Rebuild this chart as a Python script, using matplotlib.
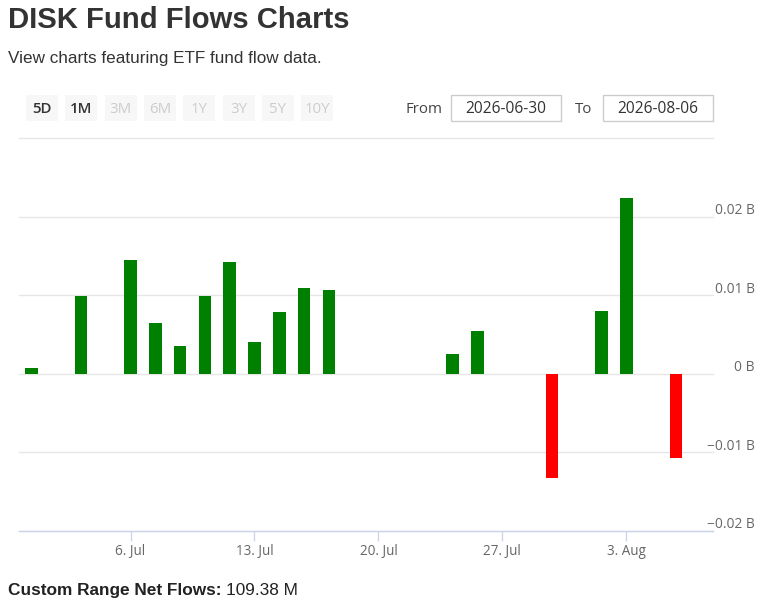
import matplotlib
matplotlib.use('Agg')
import matplotlib.pyplot as plt
import matplotlib.transforms as mtransforms
from matplotlib.patches import Rectangle

# ---------------- data ----------------
dates = ['2026-06-30', '2026-07-01', '2026-07-02', '2026-07-03',
         '2026-07-06', '2026-07-07', '2026-07-08', '2026-07-09', '2026-07-10',
         '2026-07-13', '2026-07-14', '2026-07-15', '2026-07-16', '2026-07-17',
         '2026-07-20', '2026-07-21', '2026-07-22', '2026-07-23', '2026-07-24',
         '2026-07-27', '2026-07-28', '2026-07-29', '2026-07-30', '2026-07-31',
         '2026-08-03', '2026-08-04', '2026-08-05', '2026-08-06']
flows_b = [0.0008, 0.0, 0.0099, 0.0,
           0.0145, 0.0064, 0.0035, 0.0099, 0.0142,
           0.0041, 0.0079, 0.0109, 0.0107, 0.0,
           0.0, 0.0, 0.0, 0.0025, 0.0055,
           0.0, 0.0, -0.0132, 0.0, 0.0080,
           0.0224, 0.0, -0.0107, 0.0]
tick_dates = ['2026-07-06', '2026-07-13', '2026-07-20', '2026-07-27', '2026-08-03']
tick_labels = ['6. Jul', '13. Jul', '20. Jul', '27. Jul', '3. Aug']
y_ticks = [-0.02, -0.01, 0.0, 0.01, 0.02, 0.03]
y_tick_labels = ['\u22120.02 B', '\u22120.01 B', '0 B', '0.01 B', '0.02 B', '']
range_buttons = ['5D', '1M', '3M', '6M', '1Y', '3Y', '5Y', '10Y']
active_buttons = ['5D', '1M']
from_date = '2026-06-30'
to_date = '2026-08-06'
title = 'DISK Fund Flows Charts'
subtitle = 'View charts featuring ETF fund flow data.'
net_label = 'Custom Range Net Flows:'
net_value = '109.38 M'

# ---------------- figure ----------------
W, H = 780, 605
DPI = 100
fig = plt.figure(figsize=(W / DPI, H / DPI), dpi=DPI)
fig.patch.set_facecolor('white')

def fx(x):
    return x / W

def fy(y):
    return 1 - y / H

def pt(pxsize):
    return pxsize * 72 / DPI

HEAD = ['Liberation Sans', 'DejaVu Sans']
UI = ['Open Sans', 'DejaVu Sans']

# header texts
fig.text(fx(7.5), fy(27.5), title, fontsize=pt(29.3), fontweight='bold',
         color='#333333', family=HEAD, va='baseline', ha='left')
fig.text(fx(8), fy(63.5), subtitle, fontsize=pt(17.1), color='#333333',
         family=HEAD, va='baseline', ha='left')

# range selector buttons
btn_x0 = 26
btn_step = 39.3
btn_w = 32
for i, b in enumerate(range_buttons):
    x0 = btn_x0 + i * btn_step
    fig.add_artist(Rectangle((fx(x0), fy(121.5)), btn_w / W, 26 / H,
                             transform=fig.transFigure, facecolor='#f7f7f7',
                             edgecolor='none'))
    active = b in active_buttons
    fig.text(fx(x0 + btn_w / 2), fy(113), b, fontsize=pt(15),
             color='#333333' if active else '#cccccc',
             fontweight='semibold' if active else 'normal',
             family=UI, ha='center', va='baseline')

# From / To inputs
fig.text(fx(424), fy(113), 'From', fontsize=pt(15), color='#444444',
         family=UI, ha='center', va='baseline')
fig.text(fx(584), fy(113), 'To', fontsize=pt(15), color='#444444',
         family=UI, ha='center', va='baseline')
for (x0, x1, txt) in [(451, 561, from_date), (603, 713, to_date)]:
    fig.add_artist(Rectangle((fx(x0), fy(121.5)), (x1 - x0) / W, 26 / H,
                             transform=fig.transFigure, facecolor='white',
                             edgecolor='#cccccc', linewidth=1))
    fig.text(fx((x0 + x1) / 2), fy(113), txt, fontsize=pt(15.5),
             color='#333333', family=UI, ha='center', va='baseline')

# ---------------- chart ----------------
ax = fig.add_axes([fx(19), fy(531), (713 - 19) / W, (531 - 138) / H])
xs = list(range(len(dates)))
colors = ['#008000' if v >= 0 else '#ff0000' for v in flows_b]
ax.bar(xs, flows_b, width=0.51, color=colors, zorder=3)

ax.set_xlim(-0.5, len(dates) - 0.5)
ax.set_ylim(y_ticks[0], y_ticks[-1])

tick_pos = [dates.index(d) for d in tick_dates]
ax.set_xticks(tick_pos)
ax.set_xticklabels(tick_labels, family=UI, fontsize=pt(13.5), color='#666666')
ax.tick_params(axis='x', length=10 * 72 / DPI, width=1, color='#ccd6eb',
               pad=pt(3))

ax.yaxis.tick_right()
ax.set_yticks(y_ticks)
ax.set_yticklabels(y_tick_labels, family=UI, fontsize=pt(13.8), color='#666666')
ax.tick_params(axis='y', length=0, pad=pt(42))
offset = mtransforms.ScaledTranslation(0, 2.5 / DPI, fig.dpi_scale_trans)
for lab in ax.get_yticklabels():
    lab.set_ha('right')
    lab.set_va('baseline')
    lab.set_transform(lab.get_transform() + offset)

ax.grid(axis='y', color='#e6e6e6', linewidth=1)
ax.set_axisbelow(True)
for gl in ax.get_ygridlines():
    gl.set_clip_on(False)
for s in ['top', 'left', 'right']:
    ax.spines[s].set_visible(False)
ax.spines['bottom'].set_color('#ccd6eb')
ax.spines['bottom'].set_linewidth(1)
ax.spines['bottom'].set_zorder(4)

# footer
t1 = fig.text(fx(8), fy(595), net_label + ' ', fontsize=pt(17.2), fontweight='bold',
              color='#222222', family=HEAD, va='baseline', ha='left')
fig.canvas.draw()
bb = t1.get_window_extent()
fig.text(bb.x1 / W, fy(595), net_value, fontsize=pt(17.2), color='#222222',
         family=HEAD, va='baseline', ha='left')

fig.savefig('out.png', dpi=DPI, facecolor='white')
